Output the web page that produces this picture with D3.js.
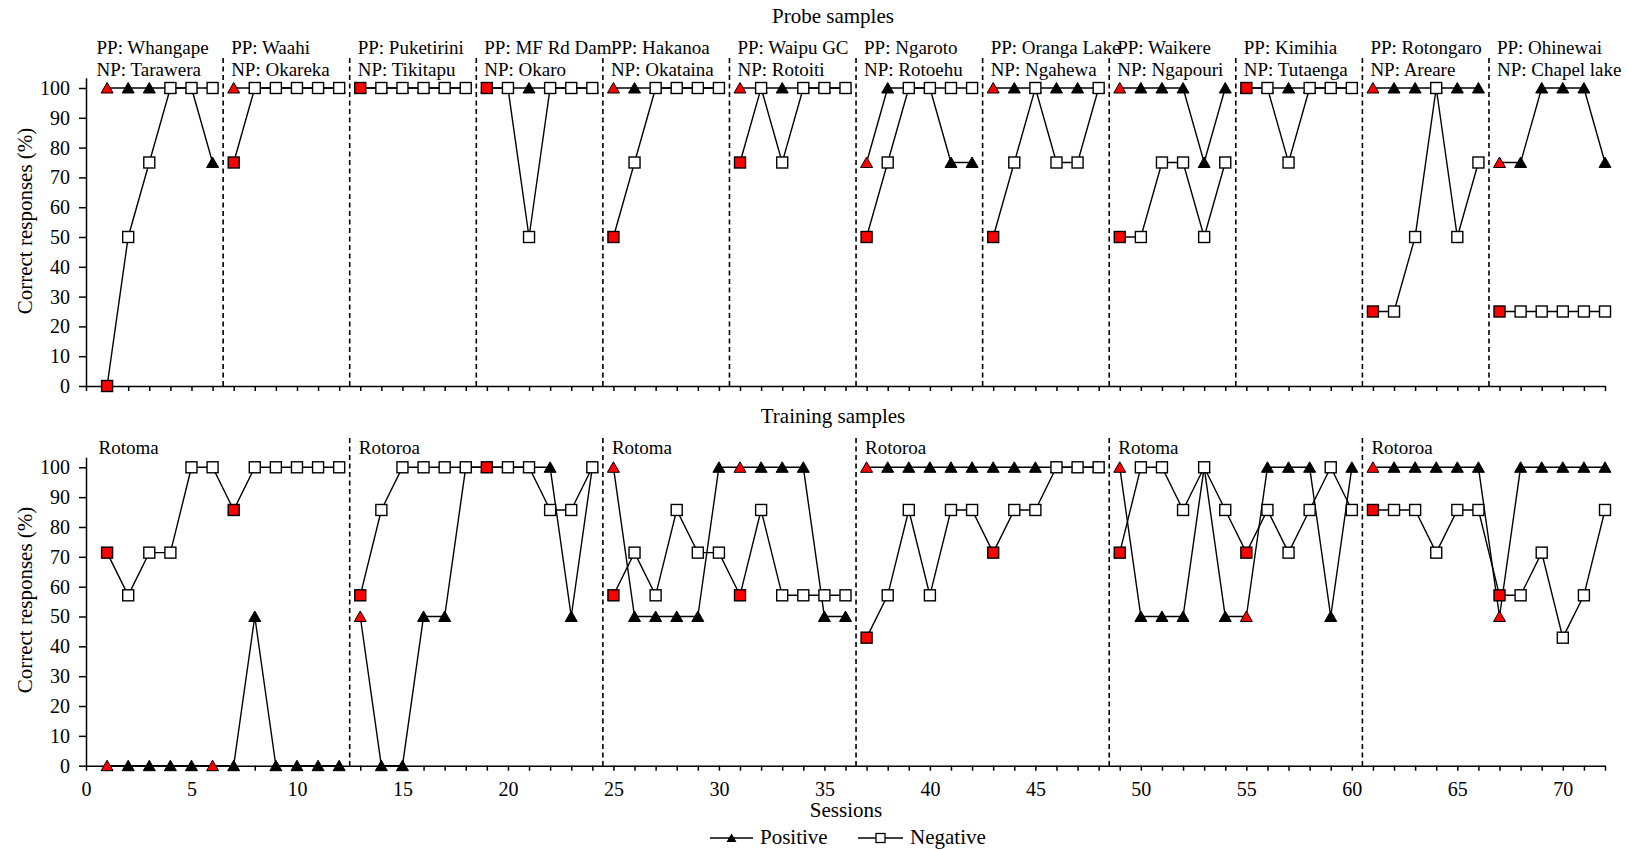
<!DOCTYPE html>
<html>
<head>
<meta charset="utf-8">
<script src="https://cdn.jsdelivr.net/npm/d3@7"></script>
<style>
  html, body { margin: 0; padding: 0; background: #fff; }
  svg { display: block; }
  svg text { font-family: "Liberation Serif", "Times New Roman", Times, serif !important; fill: #000; }
</style>
</head>
<body>
<svg id="chart" width="1627" height="849" font-family="Liberation Serif"></svg>
<script>
// ---------------- DATA ----------------
const sessions = d3.range(1, 73);

// Probe samples (top panel), blocks of 6 sessions
const probeBlockStarts = [1, 7, 13, 19, 25, 31, 37, 43, 49, 55, 61, 67];
const probePP = ["Whangape", "Waahi", "Puketirini", "MF Rd Dam", "Hakanoa", "Waipu GC",
                 "Ngaroto", "Oranga Lake", "Waikere", "Kimihia", "Rotongaro", "Ohinewai"];
const probeNP = ["Tarawera", "Okareka", "Tikitapu", "Okaro", "Okataina", "Rotoiti",
                 "Rotoehu", "Ngahewa", "Ngapouri", "Tutaenga", "Areare", "Chapel lake"];
const probePositive = [
  100, 100, 100, 100, 100, 75,
  100, 100, 100, 100, 100, 100,
  100, 100, 100, 100, 100, 100,
  100, 100, 100, 100, 100, 100,
  100, 100, 100, 100, 100, 100,
  100, 100, 100, 100, 100, 100,
  75, 100, 100, 100, 75, 75,
  100, 100, 100, 100, 100, 100,
  100, 100, 100, 100, 75, 100,
  100, 100, 100, 100, 100, 100,
  100, 100, 100, 100, 100, 100,
  75, 75, 100, 100, 100, 75
];
const probeNegative = [
  0, 50, 75, 100, 100, 100,
  75, 100, 100, 100, 100, 100,
  100, 100, 100, 100, 100, 100,
  100, 100, 50, 100, 100, 100,
  50, 75, 100, 100, 100, 100,
  75, 100, 75, 100, 100, 100,
  50, 75, 100, 100, 100, 100,
  50, 75, 100, 75, 75, 100,
  50, 50, 75, 75, 50, 75,
  100, 100, 75, 100, 100, 100,
  25, 25, 50, 100, 50, 75,
  25, 25, 25, 25, 25, 25
];
const probeRedPositive = [1, 7, 13, 19, 25, 31, 37, 43, 49, 55, 61, 67];
const probeRedNegative = [1, 7, 13, 19, 25, 31, 37, 43, 49, 55, 61, 67];

// Training samples (bottom panel), blocks of 12 sessions
const trainBlockStarts = [1, 13, 25, 37, 49, 61];
const trainNames = ["Rotoma", "Rotoroa", "Rotoma", "Rotoroa", "Rotoma", "Rotoroa"];
const trainPositive = [
  0, 0, 0, 0, 0, 0, 0, 50, 0, 0, 0, 0,
  50, 0, 0, 50, 50, 100, 100, 100, 100, 100, 50, 100,
  100, 50, 50, 50, 50, 100, 100, 100, 100, 100, 50, 50,
  100, 100, 100, 100, 100, 100, 100, 100, 100, 100, 100, 100,
  100, 50, 50, 50, 100, 50, 50, 100, 100, 100, 50, 100,
  100, 100, 100, 100, 100, 100, 50, 100, 100, 100, 100, 100
];
const trainNegative = [
  71.4, 57.1, 71.4, 71.4, 100, 100, 85.7, 100, 100, 100, 100, 100,
  57.1, 85.7, 100, 100, 100, 100, 100, 100, 100, 85.7, 85.7, 100,
  57.1, 71.4, 57.1, 85.7, 71.4, 71.4, 57.1, 85.7, 57.1, 57.1, 57.1, 57.1,
  42.9, 57.1, 85.7, 57.1, 85.7, 85.7, 71.4, 85.7, 85.7, 100, 100, 100,
  71.4, 100, 100, 85.7, 100, 85.7, 71.4, 85.7, 71.4, 85.7, 100, 85.7,
  85.7, 85.7, 85.7, 71.4, 85.7, 85.7, 57.1, 57.1, 71.4, 42.9, 57.1, 85.7
];
const trainRedPositive = [1, 6, 13, 19, 25, 31, 37, 49, 55, 61, 67];
const trainRedNegative = [1, 7, 13, 19, 25, 31, 37, 43, 49, 55, 61, 67];

const yTickValues = d3.range(0, 101, 10);
const xLabelValues = d3.range(0, 71, 5);
const seriesNames = ["Positive", "Negative"];

// ---------------- LAYOUT ----------------
const FONT = "Liberation Serif, Times New Roman, serif";
const svg = d3.select("#chart");
const RED = "#ff0000";
const x = d3.scaleLinear().domain([0, 72]).range([86, 1605]);

const triPath = "M0,-5.5L6,5L-6,5Z";
const sqSize = 11;

function drawPanel(opts) {
  const { yBottom, yTop100, blockStarts, blockLen, pos, neg, redPos, redNeg, showXLabels, dashTop } = opts;
  const pxPerUnit = (yBottom - yTop100) / 100;
  const y = d3.scaleLinear().domain([0, 103.4]).range([yBottom, yBottom - 103.4 * pxPerUnit]);
  const g = svg.append("g");

  blockStarts.slice(1).forEach(s => {
    g.append("line")
      .attr("x1", x(s - 0.5)).attr("x2", x(s - 0.5))
      .attr("y1", dashTop).attr("y2", yBottom)
      .attr("stroke", "#000").attr("stroke-width", 1.6)
      .attr("stroke-dasharray", "5,3.5");
  });

  const yAxis = d3.axisLeft(y).tickValues(yTickValues).tickSize(7).tickSizeOuter(0).tickPadding(9);
  const ga = g.append("g").attr("transform", `translate(${x(0)},0)`).call(yAxis)
    .attr("font-family", FONT).attr("font-size", 20);
  ga.selectAll("text").attr("fill", "#000");
  ga.selectAll("path,line").attr("stroke", "#000").attr("stroke-width", 1.5);

  const xAxis = d3.axisBottom(x).tickValues(d3.range(0, 73)).tickSize(5).tickSizeOuter(0).tickPadding(11)
    .tickFormat(d => (showXLabels && xLabelValues.includes(d)) ? d : "");
  const gx = g.append("g").attr("transform", `translate(0,${yBottom})`).call(xAxis)
    .attr("font-family", FONT).attr("font-size", 20);
  gx.selectAll("text").attr("fill", "#000");
  gx.selectAll("path,line").attr("stroke", "#000").attr("stroke-width", 1.5);

  const pts = (vals) => sessions.map((s, i) => ({ s, v: vals[i] }));
  const posPts = pts(pos), negPts = pts(neg);
  const line = d3.line().x(d => x(d.s)).y(d => y(d.v));

  blockStarts.forEach(b => {
    const inBlock = d => d.s >= b && d.s < b + blockLen;
    [posPts, negPts].forEach(arr => {
      g.append("path").datum(arr.filter(inBlock))
        .attr("d", line).attr("fill", "none")
        .attr("stroke", "#000").attr("stroke-width", 1.4);
    });
  });

  g.selectAll(".tri").data(posPts).enter().append("path")
    .attr("d", triPath)
    .attr("transform", d => `translate(${x(d.s)},${y(d.v)})`)
    .attr("fill", d => redPos.includes(d.s) ? RED : "#000")
    .attr("stroke", "#000").attr("stroke-width", 1);

  g.selectAll(".sq").data(negPts).enter().append("rect")
    .attr("x", d => x(d.s) - sqSize / 2).attr("y", d => y(d.v) - sqSize / 2)
    .attr("width", sqSize).attr("height", sqSize)
    .attr("fill", d => redNeg.includes(d.s) ? RED : "#fff")
    .attr("stroke", "#000").attr("stroke-width", 1.4);

  return y;
}

// ---------------- TOP PANEL ----------------
drawPanel({
  yBottom: 386, yTop100: 88, blockStarts: probeBlockStarts, blockLen: 6,
  pos: probePositive, neg: probeNegative, redPos: probeRedPositive, redNeg: probeRedNegative,
  showXLabels: false, dashTop: 58
});
probeBlockStarts.forEach((b, i) => {
  const lx = i === 0 ? x(0.5) : x(b - 0.5) + 8;
  svg.append("text").attr("x", lx).attr("y", 54).attr("font-size", 19).text("PP: " + probePP[i]);
  svg.append("text").attr("x", lx).attr("y", 76).attr("font-size", 19).text("NP: " + probeNP[i]);
});
svg.append("text").attr("x", 833).attr("y", 23).attr("text-anchor", "middle")
  .attr("font-size", 21).text("Probe samples");

// ---------------- BOTTOM PANEL ----------------
drawPanel({
  yBottom: 765.7, yTop100: 467.3, blockStarts: trainBlockStarts, blockLen: 12,
  pos: trainPositive, neg: trainNegative, redPos: trainRedPositive, redNeg: trainRedNegative,
  showXLabels: true, dashTop: 438
});
trainBlockStarts.forEach((b, i) => {
  const lx = i === 0 ? x(0.5) + 2 : x(b - 0.5) + 9;
  svg.append("text").attr("x", lx).attr("y", 454).attr("font-size", 19).text(trainNames[i]);
});
svg.append("text").attr("x", 833).attr("y", 423).attr("text-anchor", "middle")
  .attr("font-size", 21).text("Training samples");

[221, 600].forEach(cy => {
  svg.append("text").attr("transform", `translate(31.5,${cy}) rotate(-90)`)
    .attr("text-anchor", "middle").attr("font-size", 21).text("Correct responses (%)");
});

svg.append("text").attr("x", 846).attr("y", 817).attr("text-anchor", "middle")
  .attr("font-size", 21).text("Sessions");

// Legend
const legY = 838;
const leg = svg.append("g");
[[710, 753, 760], [858, 903, 910]].forEach(([x1, x2, tx], i) => {
  leg.append("line").attr("x1", x1).attr("x2", x2).attr("y1", legY).attr("y2", legY)
    .attr("stroke", "#000").attr("stroke-width", 1.5);
  const cx = (x1 + x2) / 2;
  if (i === 0) {
    leg.append("path").attr("d", "M0,-4.5L5,4L-5,4Z").attr("transform", `translate(${cx},${legY})`).attr("fill", "#000");
  } else {
    leg.append("rect").attr("x", cx - 4.5).attr("y", legY - 4.5).attr("width", 9).attr("height", 9)
      .attr("fill", "#fff").attr("stroke", "#000").attr("stroke-width", 1.3);
  }
  leg.append("text").attr("x", tx).attr("y", 843.5).attr("font-size", 21).text(seriesNames[i]);
});
</script>
</body>
</html>
